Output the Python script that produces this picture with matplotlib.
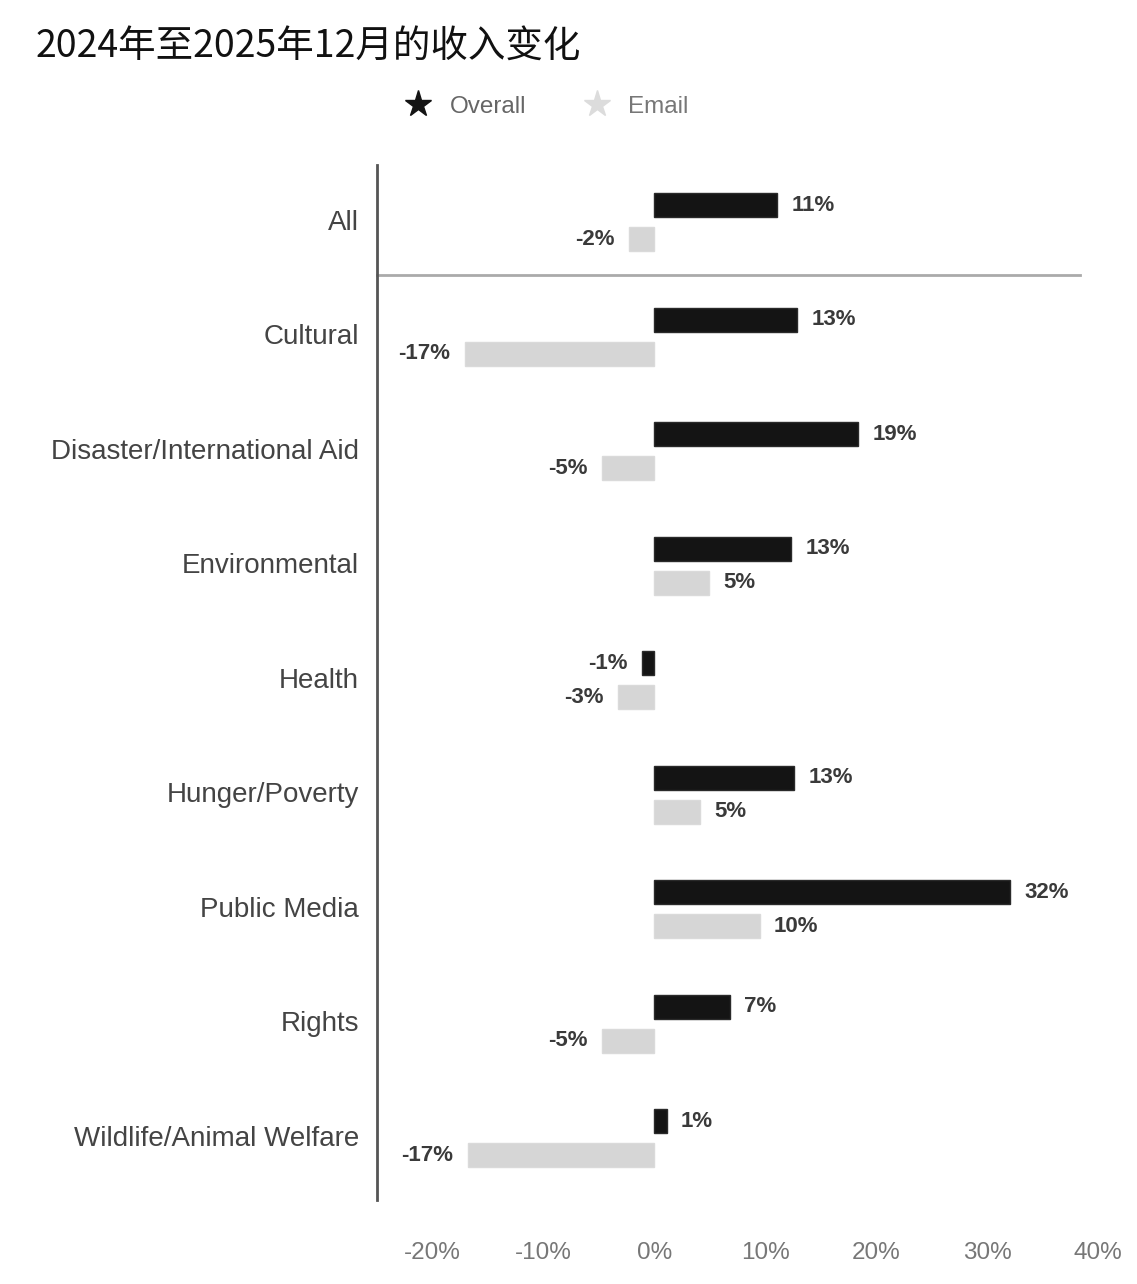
import numpy as np
import matplotlib.pyplot as plt
from matplotlib.lines import Line2D

categories = ['All', 'Cultural', 'Disaster/International Aid', 'Environmental',
              'Health', 'Hunger/Poverty', 'Public Media', 'Rights',
              'Wildlife/Animal Welfare']
# bar lengths (percent)
overall = [11.1, 12.9, 18.4, 12.3, -1.1, 12.6, 32.1, 6.8, 1.1]
email = [-2.3, -17.1, -4.7, 4.9, -3.3, 4.1, 9.5, -4.7, -16.8]
# printed labels
overall_labels = ['11%', '13%', '19%', '13%', '-1%', '13%', '32%', '7%', '1%']
email_labels = ['-2%', '-17%', '-5%', '5%', '-3%', '5%', '10%', '-5%', '-17%']
xticks = [-20, -10, 0, 10, 20, 30, 40]

plt.rcParams['font.family'] = ['Liberation Sans', 'DejaVu Sans']

fig = plt.figure(figsize=(11.37, 12.84), dpi=100)
ax = fig.add_axes([0.3316, 0.0654, 0.6341, 0.8061])

y = np.arange(len(categories))
h = 0.21
off = 0.15
dark = '#141414'
light = '#d6d6d6'

ax.barh(y - off + 0.02, overall, height=h, color=dark, edgecolor='#2a2a2a', linewidth=1)
ax.barh(y + off + 0.02, email, height=h, color=light, edgecolor='#dadada', linewidth=1)

for i in range(len(categories)):
    v = overall[i]
    if v >= 0:
        ax.text(v + 1.3, y[i] - off + 0.02, overall_labels[i], va='center', ha='left',
                fontsize=16, fontweight='bold', color='#3a3a3a')
    else:
        ax.text(v - 1.3, y[i] - off + 0.02, overall_labels[i], va='center', ha='right',
                fontsize=16, fontweight='bold', color='#3a3a3a')
    v = email[i]
    if v >= 0:
        ax.text(v + 1.3, y[i] + off + 0.02, email_labels[i], va='center', ha='left',
                fontsize=16, fontweight='bold', color='#3a3a3a')
    else:
        ax.text(v - 1.3, y[i] + off + 0.02, email_labels[i], va='center', ha='right',
                fontsize=16, fontweight='bold', color='#3a3a3a')

ax.set_xlim(-25, 40)
ax.set_ylim(8.56, -0.48)
ax.set_yticks(y)
ax.set_yticklabels(categories, fontsize=20, color='#444444')
ax.tick_params(axis='y', length=0, pad=13)
ax.set_xticks(xticks)
ax.set_xticklabels([f'{t}%' for t in xticks], fontsize=17.5, color='#777777')
ax.tick_params(axis='x', length=0, pad=30)

for s in ['top', 'right', 'bottom']:
    ax.spines[s].set_visible(False)
ax.spines['left'].set_color('#555555')
ax.spines['left'].set_linewidth(2)

# separator under "All"
ax.plot([-25, 38.4], [0.48, 0.48], color='#aaaaaa', linewidth=2, clip_on=False)

fig.text(0.031, 0.964, '2024年至2025年12月的收入变化', fontsize=27,
         family=['Noto Sans CJK SC', 'DejaVu Sans'], color='#111111', va='center')

handles = [Line2D([], [], marker='*', linestyle='none', markersize=20, color=dark),
           Line2D([], [], marker='*', linestyle='none', markersize=20, color='#dcdcdc')]
leg = fig.legend(handles, ['Overall', 'Email'], loc='center', bbox_to_anchor=(0.476, 0.917),
                 ncol=2, frameon=False, fontsize=17.5, handletextpad=0.3, columnspacing=1.9)
leg.get_texts()[0].set_color('#666666')
leg.get_texts()[1].set_color('#777777')

fig.savefig('out.png', dpi=100)
